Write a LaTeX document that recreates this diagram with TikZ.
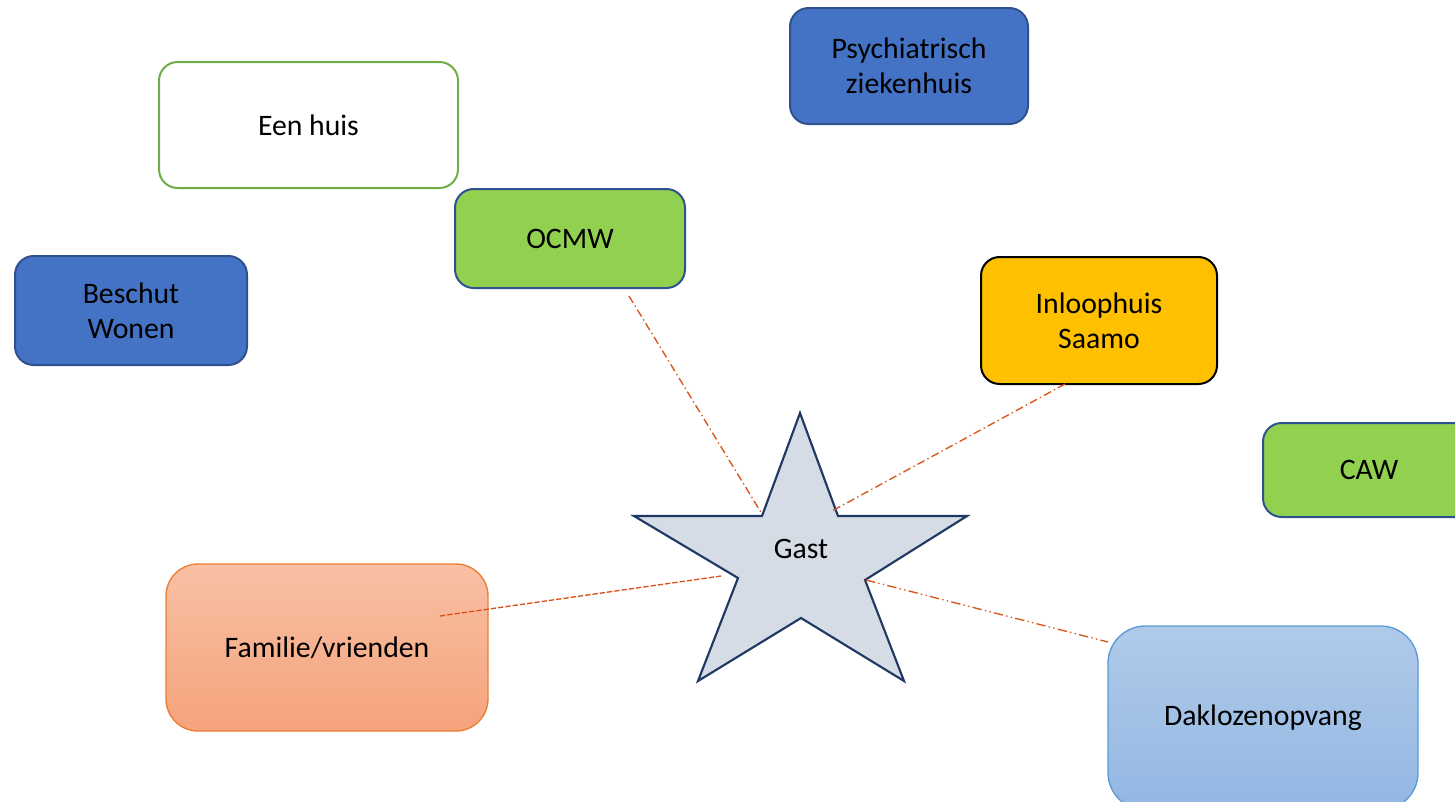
\documentclass[tikz,border=0pt]{standalone}
\usepackage{fontspec}
\setmainfont{Carlito}
\begin{document}
\begin{tikzpicture}[x=0.75pt,y=-0.75pt,
  box/.style={rounded corners=14pt, line width=1.5pt, align=center, inner sep=0pt,
    font=\fontsize{22.3}{26.5}\selectfont, text=black},
  bluebox/.style={box, fill={rgb,255:red,68;green,114;blue,196}, draw={rgb,255:red,47;green,82;blue,143}},
  greenbox/.style={box, fill={rgb,255:red,146;green,208;blue,80}, draw={rgb,255:red,47;green,82;blue,143}},
  link/.style={draw={rgb,255:red,217;green,83;blue,25}, line width=1pt}
]
\useasboundingbox (0,0) rectangle (1455,801);
\clip (0,0) rectangle (1455,801);
\fill[white] (0,0) rectangle (1455,801);

\node[box, fill=white, draw={rgb,255:red,112;green,173;blue,71}, line width=1.5pt,
  minimum width=224.25pt, minimum height=94.5pt] (huis) at (308.5,125) {Een huis};
\node[bluebox, minimum width=178.5pt, minimum height=87pt] (psych) at (909,66) {Psychiatrisch\\ziekenhuis};
\node[greenbox, minimum width=172.5pt, minimum height=74.25pt] (ocmw) at (570,238.5) {OCMW};
\node[bluebox, minimum width=174pt, minimum height=81.75pt] (beschut) at (131,310.5) {Beschut\\Wonen};
\node[box, fill={rgb,255:red,255;green,192;blue,0}, draw=black,
  minimum width=177pt, minimum height=95.25pt] (inloop) at (1099,320.5) {Inloophuis\\Saamo};
\node[greenbox, minimum width=159pt, minimum height=70.5pt] (caw) at (1369,470) {CAW};
\node[box, rounded corners=24pt, line width=1pt, draw={rgb,255:red,237;green,125;blue,49},
  top color={rgb,255:red,248;green,192;blue,164}, bottom color={rgb,255:red,245;green,163;blue,124},
  minimum width=241.5pt, minimum height=125.25pt] (familie) at (327,647.5) {Familie/vrienden};
\node[box, rounded corners=28pt, line width=1pt, draw={rgb,255:red,91;green,155;blue,213},
  top color={rgb,255:red,176;green,202;blue,233}, bottom color={rgb,255:red,147;green,183;blue,227},
  minimum width=232.5pt, minimum height=138pt] (dakloos) at (1263,718) {Daklozenopvang};

% star
\coordinate (sT) at (800,413);
\coordinate (sTR) at (838,516);
\coordinate (sR) at (967,516);
\coordinate (sBRi) at (865,580);
\coordinate (sBR) at (904,681);
\coordinate (sB) at (801,618);
\coordinate (sBL) at (698,681);
\coordinate (sBLi) at (738,578);
\coordinate (sL) at (634,516);
\coordinate (sTL) at (762,516);
\draw[fill={rgb,255:red,214;green,220;blue,229}, draw={rgb,255:red,32;green,56;blue,100}, line width=1.6pt, line join=miter]
  (sT) -- (sTR) -- (sR) -- (sBRi) -- (sBR) -- (sB) -- (sBL) -- (sBLi) -- (sL) -- (sTL) -- cycle;
\node[font=\fontsize{22.3}{26.5}\selectfont, inner sep=0pt] (gast) at (801,549) {Gast};

% connector ends
\coordinate (cO) at (629,296);
\coordinate (cOs) at (762,514);
\coordinate (cI) at (1065,384);
\coordinate (cIs) at (832,511);
\coordinate (cF) at (440,616);
\coordinate (cFs) at (721,576);
\coordinate (cD) at (1108,642);
\coordinate (cDs) at (866,580);

\draw[link, dash pattern=on 6pt off 2.5pt on 1pt off 2.5pt] (cO) -- (cOs);
\draw[link, dash pattern=on 6pt off 2.5pt on 1pt off 2.5pt] (cI) -- (cIs);
\draw[link, dash pattern=on 4pt off 1.5pt] (cF) -- (cFs);
\draw[link, dash pattern=on 7pt off 2.5pt on 1pt off 2.5pt on 1pt off 2.5pt] (cDs) -- (cD);
\end{tikzpicture}
\end{document}
